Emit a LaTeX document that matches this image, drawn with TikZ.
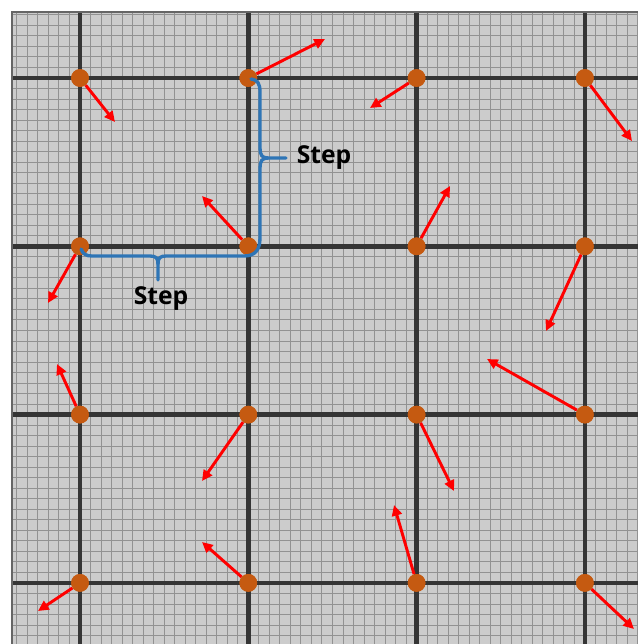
\documentclass[tikz,border=0pt]{standalone}
\usepackage{fontspec}
\setmainfont{Open Sans}
\usetikzlibrary{arrows.meta}
\definecolor{bggray}{HTML}{CCCCCC}
\definecolor{finegray}{HTML}{929292}
\definecolor{thickgray}{HTML}{353535}
\definecolor{dotorange}{HTML}{C55A11}
\definecolor{braceblue}{HTML}{2E75B6}
\tikzset{
  fine/.style={draw=finegray,line width=0.7pt},
  major/.style={draw=thickgray,line width=3.3pt},
  dot/.style={circle,fill=dotorange,inner sep=0pt,minimum size=13.3pt},
  grad/.style={draw=red,line width=2.2pt,-{Triangle[length=8pt,width=7.5pt]}},
  brace/.style={draw=braceblue,line width=2.5pt,line cap=round},
  lbl/.style={font=\bfseries\fontsize{18.5pt}{20pt}\selectfont,text=black,inner sep=0pt}
}
\begin{document}
\begin{tikzpicture}[x=0.75pt,y=-0.75pt]
\useasboundingbox (0,0) rectangle (638,644);
\fill[white] (0,0) rectangle (638,644);
\fill[bggray] (12,12) rectangle (638,644);
% fine grid
\begin{scope}
\clip (12,12) rectangle (638,644);
\foreach \i in {-6,...,53} {
  \path[fine] ({80+\i*10.52},12) -- ({80+\i*10.52},644);
  \path[fine] (12,{78+\i*10.52}) -- (638,{78+\i*10.52});
}
\foreach \i in {0,1,2,3} {
  \path[major] ({80+\i*168.3},12) -- ({80+\i*168.3},644);
  \path[major] (12,{78+\i*168.3}) -- (638,{78+\i*168.3});
}
\end{scope}
\draw[draw=gray!80!black,line width=1.5pt] (12,644) -- (12,12) -- (638,12);
% lattice points
\foreach \r in {0,1,2,3} {
  \foreach \c in {0,1,2,3} {
    \node[dot] (d\r\c) at ({80+\c*168.3},{78+\r*168.3}) {};
  }
}
% arrow end points
\coordinate (e00) at (115,122);
\coordinate (e01) at (325,39);
\coordinate (e02) at (370,108);
\coordinate (e03) at (632,141);
\coordinate (e10) at (48,303);
\coordinate (e11) at (202,196);
\coordinate (e12) at (450,186);
\coordinate (e13) at (546,331);
\coordinate (e20) at (57,364);
\coordinate (e21) at (202,481);
\coordinate (e22) at (454,491);
\coordinate (e23) at (487,359);
\coordinate (e30) at (38,611);
\coordinate (e31) at (202,542);
\coordinate (e32) at (394,505);
\coordinate (e33) at (634,629);
\foreach \r in {0,1,2,3} {
  \foreach \c in {0,1,2,3} {
    \draw[grad] (d\r\c) -- (e\r\c);
  }
}
\foreach \r in {0,1,2,3} {
  \foreach \c in {0,1,2,3} {
    \node[dot] at (d\r\c) {};
  }
}
% braces
\coordinate (vtip) at (286,158);
\coordinate (htip) at (158,280);
\draw[brace] (251,79) .. controls (258,80) and (260,84) .. (260,92) -- (260,148)
  .. controls (260,155) and (262,158) .. (268,158) -- (vtip);
\draw[brace] (268,158) .. controls (262,158) and (260,161) .. (260,168) -- (260,238)
  .. controls (260,250) and (255,256) .. (244,256) -- (166,256)
  .. controls (160,256) and (158,258) .. (158,264) -- (htip);
\draw[brace] (158,264) .. controls (158,258) and (156,256) .. (150,256) -- (92,256)
  .. controls (86,256) and (83,254) .. (81,249);
\node[lbl] (s1) at (324,158) {Step};
\node[lbl] (s2) at (161,299) {Step};
\end{tikzpicture}
\end{document}
